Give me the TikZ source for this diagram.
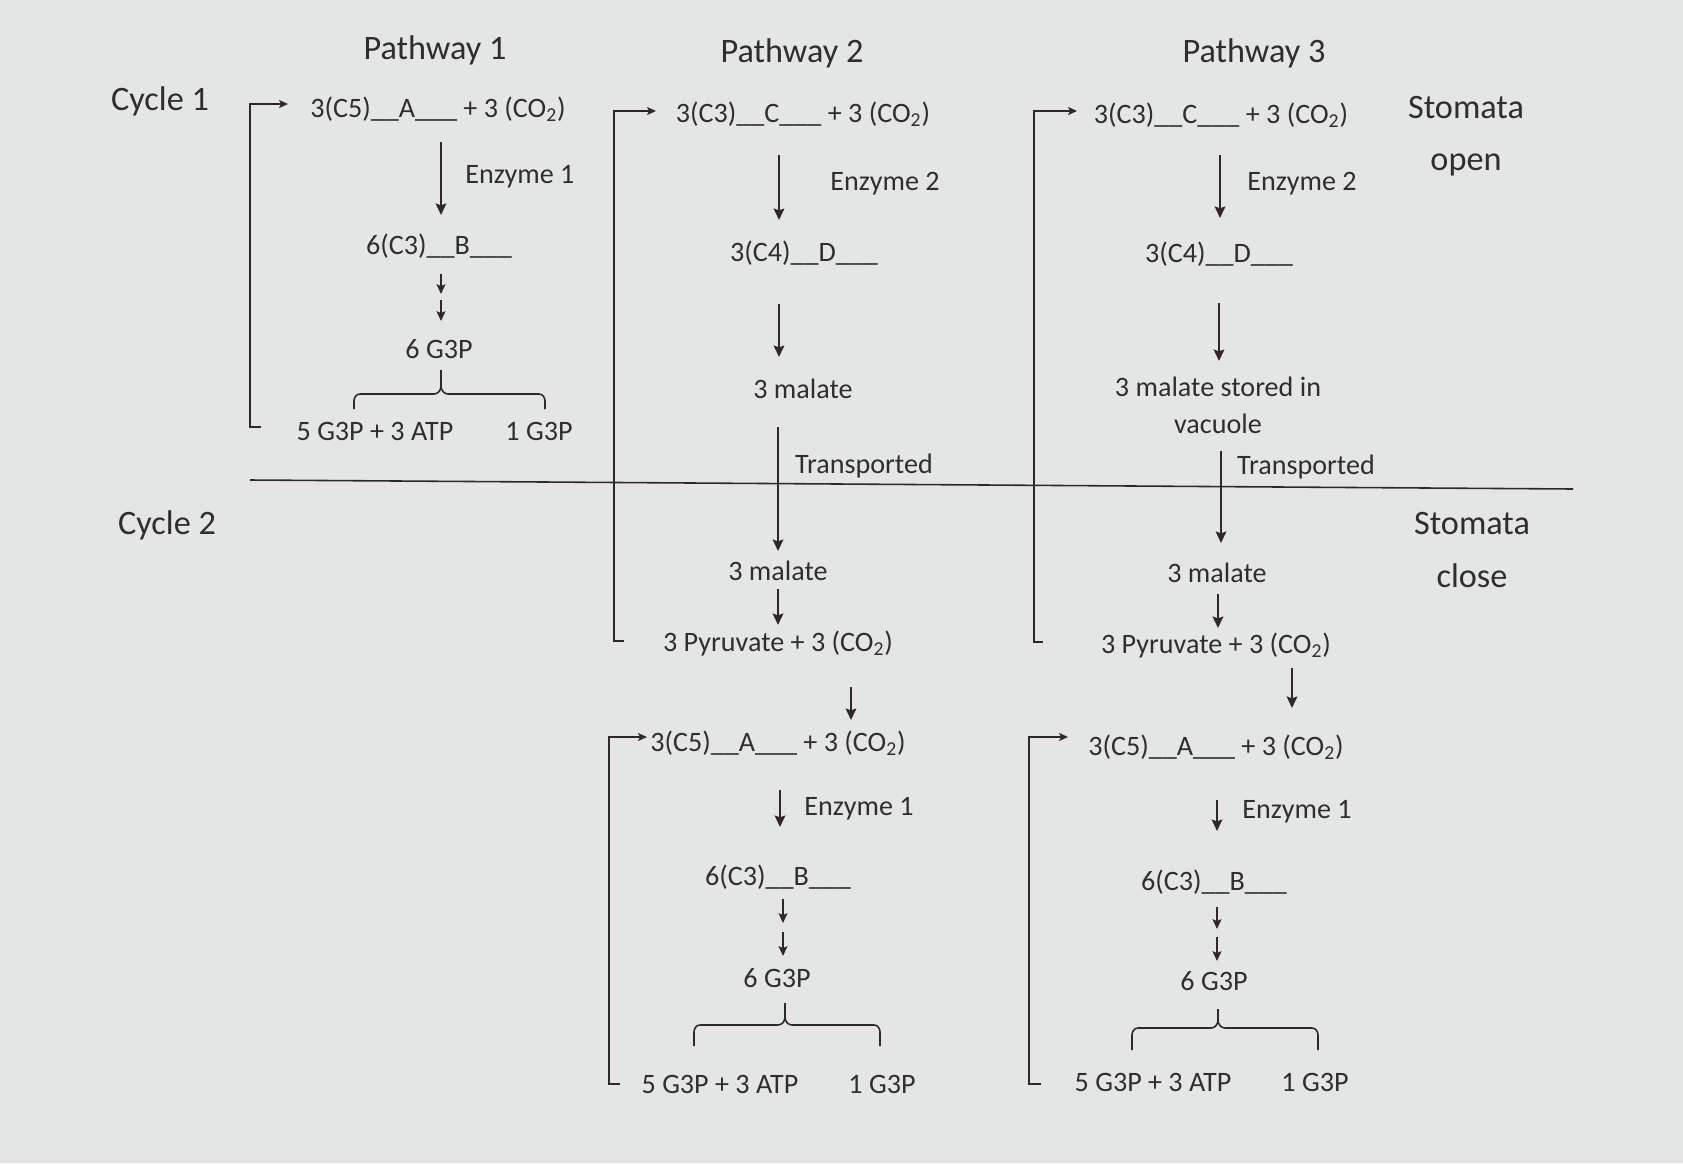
\documentclass[tikz,border=0pt]{standalone}
\usepackage{fontspec}
\setmainfont{Carlito}
\usetikzlibrary{arrows.meta}
\definecolor{bg}{HTML}{E4E6E5}
\definecolor{tc}{HTML}{2E2E2E}
\definecolor{lc}{HTML}{33252F}
\begin{document}
\begin{tikzpicture}[x=0.02cm,y=-0.02cm,
  txt/.style={inner sep=0pt,text=tc,font=\fontsize{16}{19}\selectfont,align=center},
  hdr/.style={inner sep=0pt,text=tc,font=\fontsize{19.5}{27}\selectfont,align=center},
  arr/.style={draw=lc,line width=1.4pt,-{Stealth[length=6.5pt,width=6pt,inset=1pt]}},
  sarr/.style={draw=lc,line width=1.3pt,-{Stealth[length=5.5pt,width=5pt,inset=1pt]}},
  loopline/.style={draw=lc,line width=0.9pt,-{Stealth[length=5pt,width=4.5pt,inset=1pt]}},
  brace/.style={draw=lc,line width=0.9pt}]
\fill[bg] (0,0) rectangle (1683,1163);
\useasboundingbox (0,0) rectangle (1683,1163);

% headers
\node[hdr] (h1) at (435,50) {Pathway 1};
\node[hdr] (h2) at (792,53) {Pathway 2};
\node[hdr] (h3) at (1254,53) {Pathway 3};
\node[hdr] (c1) at (160,101) {Cycle 1};
\node[hdr] (c2) at (167,525) {Cycle 2};
\node[hdr] (so) at (1466,136) {Stomata\\[3pt]open};
\node[hdr] (sc) at (1472,550) {Stomata\\[3pt]close};

% divider
\coordinate (dL) at (250,480);
\coordinate (dR) at (1573,489);
\draw[lc,line width=0.9pt] (dL) -- (dR);

% ---------- Pathway 1 ----------
\node[txt] (p1a) at (438,109) {3(C5)\_\_A\_\_\_ + 3 (CO\textsubscript{2})};
\node[txt,anchor=west] (p1e) at (465,177) {Enzyme 1};
\node[txt] (p1b) at (439,246) {6(C3)\_\_B\_\_\_};
\node[txt] (p1c) at (439,349) {6 G3P};
\node[txt] (p1d) at (375,431) {5 G3P + 3 ATP};
\node[txt] (p1f) at (539,431) {1 G3P};
\path (441,142) coordinate (p1s1) (441,215) coordinate (p1t1)
      (441,274) coordinate (p1s2) (441,294) coordinate (p1t2)
      (441,300) coordinate (p1s3) (441,321) coordinate (p1t3);
\draw[arr] (p1s1) -- (p1t1);
\draw[sarr] (p1s2) -- (p1t2);
\draw[sarr] (p1s3) -- (p1t3);
\draw[brace] (441,370) -- (441,386) to[out=-90,in=0] (434,394) -- (360,394) to[out=180,in=90] (354,401) -- (354,409);
\draw[brace] (441,386) to[out=-90,in=180] (448,394) -- (539,394) to[out=0,in=90] (545,401) -- (545,409);
\coordinate (p1lb) at (261,427);
\draw[loopline] (p1lb) -- (250,427) -- (250,104) -- (288,104);

% ---------- Pathway 2 ----------
\node[txt] (p2a) at (803,114) {3(C3)\_\_C\_\_\_ + 3 (CO\textsubscript{2})};
\node[txt] (p2e) at (885,184) {Enzyme 2};
\node[txt] (p2b) at (804,253) {3(C4)\_\_D\_\_\_};
\node[txt] (p2c) at (803,389) {3 malate};
\node[txt] (p2t) at (864,466) {Transported};
\node[txt] (p2d) at (778,571) {3 malate};
\node[txt] (p2f) at (778,643) {3 Pyruvate + 3 (CO\textsubscript{2})};
\path (779,155) coordinate (p2s1) (779,220) coordinate (p2t1)
      (779,304) coordinate (p2s2) (779,357) coordinate (p2t2)
      (778,427) coordinate (p2s3) (778,551) coordinate (p2t3)
      (778,589) coordinate (p2s4) (778,625) coordinate (p2t4)
      (851,687) coordinate (p2s5) (851,720) coordinate (p2t5);
\draw[arr] (p2s1) -- (p2t1);
\draw[arr] (p2s2) -- (p2t2);
\draw[arr] (p2s3) -- (p2t3);
\draw[arr] (p2s4) -- (p2t4);
\draw[arr] (p2s5) -- (p2t5);
\coordinate (p2lb) at (624,641);
\draw[loopline] (p2lb) -- (614,641) -- (614,111) -- (656,111);

% Pathway 2 lower cycle
\node[txt] (q2a) at (778,743) {3(C5)\_\_A\_\_\_ + 3 (CO\textsubscript{2})};
\node[txt] (q2e) at (859,809) {Enzyme 1};
\node[txt] (q2b) at (778,877) {6(C3)\_\_B\_\_\_};
\node[txt] (q2c) at (777,978) {6 G3P};
\node[txt] (q2d) at (720,1084) {5 G3P + 3 ATP};
\node[txt] (q2f) at (882,1084) {1 G3P};
\path (780,790) coordinate (q2s1) (780,827) coordinate (q2t1)
      (783,899) coordinate (q2s2) (783,923) coordinate (q2t2)
      (783,932) coordinate (q2s3) (783,956) coordinate (q2t3);
\draw[arr] (q2s1) -- (q2t1);
\draw[sarr] (q2s2) -- (q2t2);
\draw[sarr] (q2s3) -- (q2t3);
\draw[brace] (785,1003) -- (785,1017) to[out=-90,in=0] (778,1025) -- (700,1025) to[out=180,in=90] (694,1032) -- (694,1046);
\draw[brace] (785,1017) to[out=-90,in=180] (792,1025) -- (874,1025) to[out=0,in=90] (880,1032) -- (880,1046);
\coordinate (q2lb) at (620,1084);
\draw[loopline] (q2lb) -- (609,1084) -- (609,737) -- (647,737);

% ---------- Pathway 3 ----------
\node[txt] (p3a) at (1221,115) {3(C3)\_\_C\_\_\_ + 3 (CO\textsubscript{2})};
\node[txt] (p3e) at (1302,184) {Enzyme 2};
\node[txt] (p3b) at (1219,254) {3(C4)\_\_D\_\_\_};
\node[txt] (p3c) at (1218,405) {3 malate stored in\\[2pt]vacuole};
\node[txt] (p3t) at (1306,467) {Transported};
\node[txt] (p3d) at (1217,573) {3 malate};
\node[txt] (p3f) at (1216,645) {3 Pyruvate + 3 (CO\textsubscript{2})};
\path (1220,155) coordinate (p3s1) (1220,218) coordinate (p3t1)
      (1219,303) coordinate (p3s2) (1219,361) coordinate (p3t2)
      (1221,451) coordinate (p3s3) (1221,543) coordinate (p3t3)
      (1218,594) coordinate (p3s4) (1218,628) coordinate (p3t4)
      (1292,668) coordinate (p3s5) (1292,708) coordinate (p3t5);
\draw[arr] (p3s1) -- (p3t1);
\draw[arr] (p3s2) -- (p3t2);
\draw[arr] (p3s3) -- (p3t3);
\draw[arr] (p3s4) -- (p3t4);
\draw[arr] (p3s5) -- (p3t5);
\coordinate (p3lb) at (1043,642);
\draw[loopline] (p3lb) -- (1034,642) -- (1034,111) -- (1077,111);

% Pathway 3 lower cycle
\node[txt] (q3a) at (1216,747) {3(C5)\_\_A\_\_\_ + 3 (CO\textsubscript{2})};
\node[txt] (q3e) at (1297,812) {Enzyme 1};
\node[txt] (q3b) at (1214,882) {6(C3)\_\_B\_\_\_};
\node[txt] (q3c) at (1214,981) {6 G3P};
\node[txt] (q3d) at (1153,1082) {5 G3P + 3 ATP};
\node[txt] (q3f) at (1315,1082) {1 G3P};
\path (1217,800) coordinate (q3s1) (1217,831) coordinate (q3t1)
      (1217,907) coordinate (q3s2) (1217,929) coordinate (q3t2)
      (1217,937) coordinate (q3s3) (1217,961) coordinate (q3t3);
\draw[arr] (q3s1) -- (q3t1);
\draw[sarr] (q3s2) -- (q3t2);
\draw[sarr] (q3s3) -- (q3t3);
\draw[brace] (1218,1009) -- (1218,1020) to[out=-90,in=0] (1211,1028) -- (1138,1028) to[out=180,in=90] (1132,1035) -- (1132,1050);
\draw[brace] (1218,1020) to[out=-90,in=180] (1225,1028) -- (1312,1028) to[out=0,in=90] (1318,1035) -- (1318,1050);
\coordinate (q3lb) at (1041,1084);
\draw[loopline] (q3lb) -- (1029,1084) -- (1029,737) -- (1068,737);
\end{tikzpicture}
\end{document}
